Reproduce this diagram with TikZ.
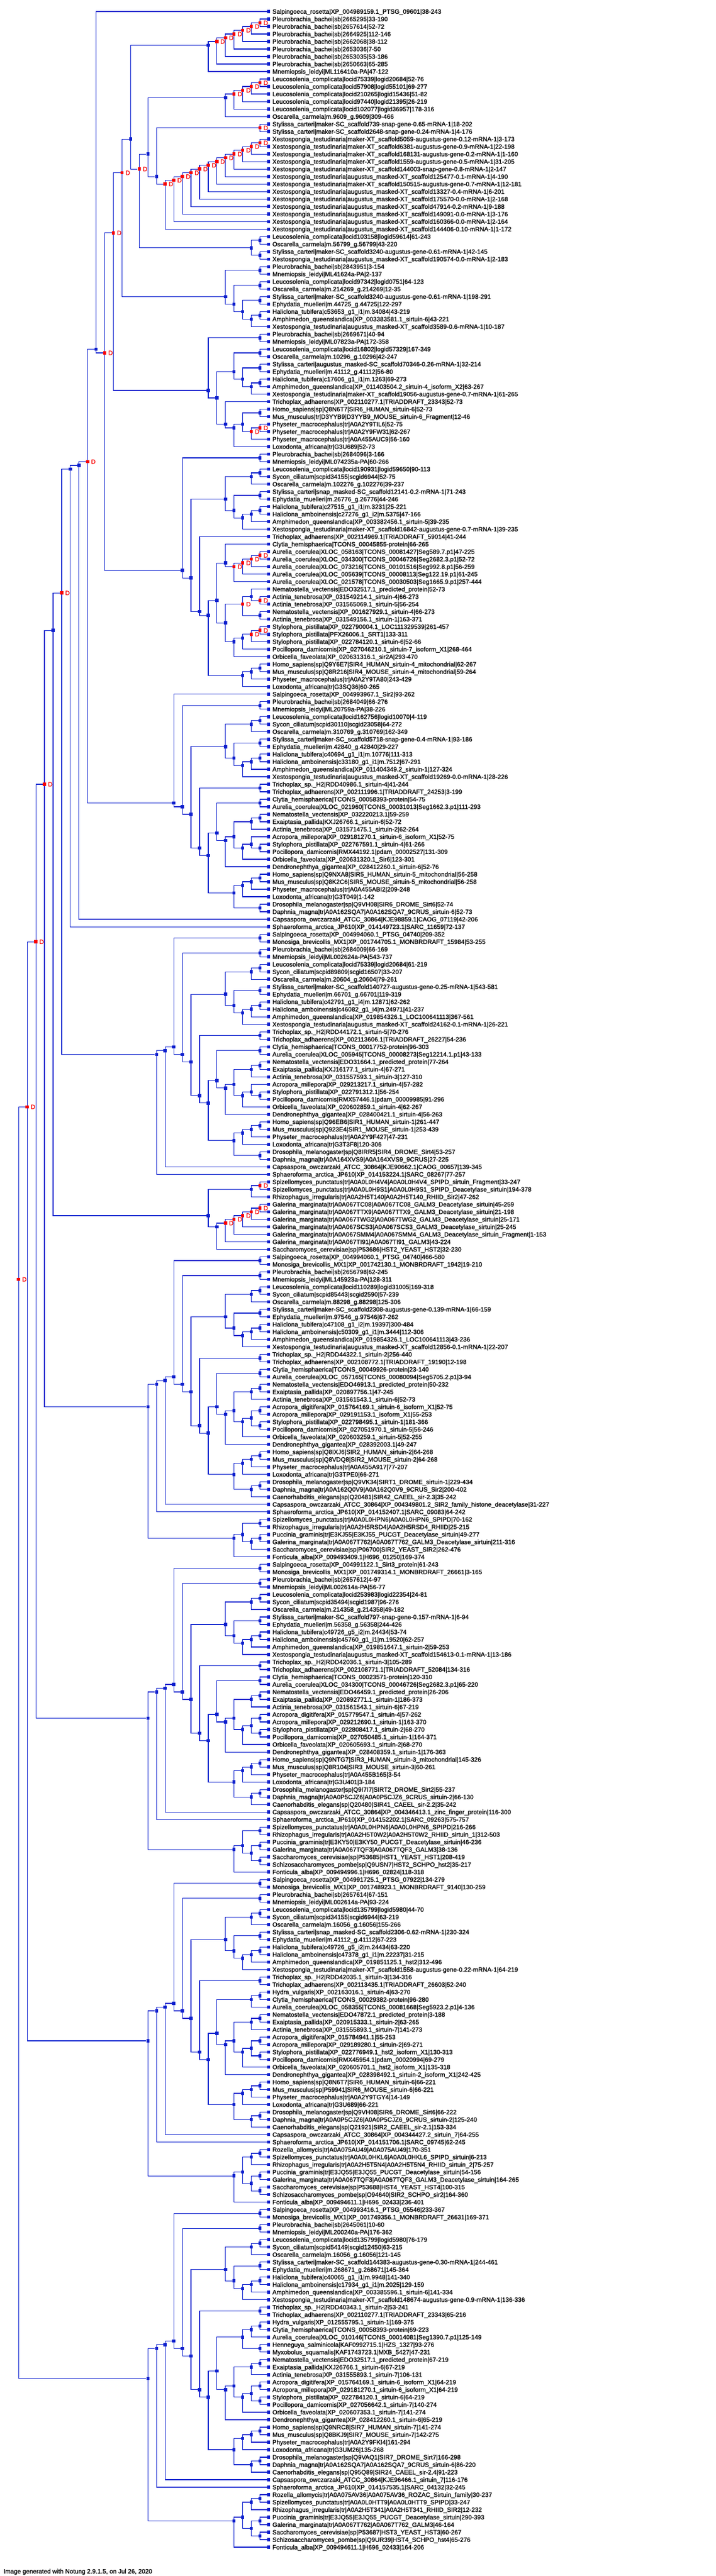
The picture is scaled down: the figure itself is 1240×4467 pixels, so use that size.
\documentclass[tikz,border=0pt]{standalone}
\usepackage{fontspec}
\setmainfont{Liberation Sans}
\newfontfamily\labelfamily{Liberation Sans}[FakeBold=1.2]
\definecolor{treeblue}{RGB}{12,32,206}
\definecolor{dupred}{RGB}{250,0,0}
\newcount\leafno \newcount\stackno \newcount\nodeno
\newcount\tmpa \newcount\tmpb \newcount\tmph \newcount\tmps \newcount\tmpn \newcount\tmpm
\newcommand\treefont{\labelfamily\fontsize{10.8}{12}\selectfont}
\tikzset{
  branch/.style={treeblue, line width=1.2pt},
  leafdot/.style={fill=treeblue, minimum size=5.5pt, inner sep=0pt},
  spec/.style={fill=treeblue, minimum size=5.5pt, inner sep=0pt},
  dupl/.style={fill=dupred, minimum size=5.5pt, inner sep=0pt, label={[dmark]east:D}},
  dmark/.style={text=dupred, font=\treefont, inner sep=0pt, label distance=3pt},
  leaftext/.style={anchor=base west, inner sep=0pt, yshift=-3.8pt, font=\treefont}
}
\newcommand\Leaf[1]{%
  \global\advance\leafno by 1
  \global\advance\stackno by 1
  \edef\ty{\the\dimexpr -20pt-13.0089pt*\numexpr\leafno-1\relax\relax}%
  \node[leafdot] (lf\the\leafno) at (465.5pt,\ty) {};
  \node[leaftext] (lt\the\leafno) at (472pt,\ty) {#1};
  \expandafter\xdef\csname gh\the\stackno\endcsname{0}%
  \expandafter\xdef\csname gs\the\stackno\endcsname{\the\leafno}%
  \expandafter\xdef\csname gn\the\stackno\endcsname{1}%
  \expandafter\xdef\csname gm\the\stackno\endcsname{lf\the\leafno}%
}
\newcommand\JoinTwo[1]{%
  \tmpb=\stackno \tmpa=\stackno \advance\tmpa by -1
  \tmph=\csname gh\the\tmpa\endcsname\relax
  \ifnum\csname gh\the\tmpb\endcsname>\tmph \tmph=\csname gh\the\tmpb\endcsname\relax\fi
  \advance\tmph by 1
  \tmps=\numexpr\csname gs\the\tmpa\endcsname+\csname gs\the\tmpb\endcsname\relax
  \tmpn=\numexpr\csname gn\the\tmpa\endcsname+\csname gn\the\tmpb\endcsname\relax
  \tmpm=\numexpr\tmps*1000/\tmpn-1000\relax
  \global\advance\nodeno by 1
  \edef\ty{\the\dimexpr -20pt-13.0089pt*\tmpm/1000\relax}%
  \edef\tx{\the\dimexpr 465.5pt-14.94pt*\tmph\relax}%
  \edef\na{\csname gm\the\tmpa\endcsname}%
  \edef\nb{\csname gm\the\tmpb\endcsname}%
  \edef\nc{nd\the\nodeno}%
  \coordinate (\nc c) at (\tx,\ty);
  \draw[branch] (\nc c) |- (\na.west) (\nc c) |- (\nb.west);
  \node[#1] (\nc) at (\nc c) {};
  \expandafter\xdef\csname gh\the\tmpa\endcsname{\the\tmph}%
  \expandafter\xdef\csname gs\the\tmpa\endcsname{\the\tmps}%
  \expandafter\xdef\csname gn\the\tmpa\endcsname{\the\tmpn}%
  \expandafter\xdef\csname gm\the\tmpa\endcsname{\nc}%
  \global\advance\stackno by -1
}
\newcommand\Spec{\JoinTwo{spec}}
\newcommand\Dupl{\JoinTwo{dupl}}
\begin{document}
\catcode`\_=12
\begin{tikzpicture}
\fill[white] (0pt,0pt) rectangle (1240pt,-4467pt);
\useasboundingbox (0pt,0pt) rectangle (1240pt,-4467pt);
\Leaf{Salpingoeca_rosetta|XP_004989159.1_PTSG_09601|38-243}
\Leaf{Pleurobrachia_bachei|sb|2665295|33-190}
\Leaf{Pleurobrachia_bachei|sb|2657614|52-72}\Dupl
\Leaf{Pleurobrachia_bachei|sb|2664925|112-146}\Dupl
\Leaf{Pleurobrachia_bachei|sb|2662068|38-112}\Dupl
\Leaf{Pleurobrachia_bachei|sb|2653036|7-50}\Dupl
\Leaf{Pleurobrachia_bachei|sb|2653035|53-186}\Dupl
\Leaf{Pleurobrachia_bachei|sb|2650663|65-285}\Dupl
\Leaf{Mnemiopsis_leidyi|ML116410a-PA|47-122}\Spec
\Leaf{Leucosolenia_complicata|locid75339|logid20684|52-76}
\Leaf{Leucosolenia_complicata|locid57908|logid55101|69-277}\Dupl
\Leaf{Leucosolenia_complicata|locid210265|logid15436|51-82}\Dupl
\Leaf{Leucosolenia_complicata|locid97440|logid21395|26-219}\Dupl
\Leaf{Leucosolenia_complicata|locid102077|logid36957|178-316}\Dupl
\Leaf{Oscarella_carmela|m.9609_g.9609|309-466}\Spec
\Leaf{Stylissa_carteri|maker-SC_scaffold739-snap-gene-0.65-mRNA-1|18-202}
\Leaf{Stylissa_carteri|maker-SC_scaffold2648-snap-gene-0.24-mRNA-1|4-176}\Dupl
\Leaf{Xestospongia_testudinaria|maker-XT_scaffold5059-augustus-gene-0.12-mRNA-1|3-173}
\Leaf{Xestospongia_testudinaria|maker-XT_scaffold6381-augustus-gene-0.9-mRNA-1|22-198}\Dupl
\Leaf{Xestospongia_testudinaria|maker-XT_scaffold168131-augustus-gene-0.2-mRNA-1|1-160}\Dupl
\Leaf{Xestospongia_testudinaria|maker-XT_scaffold1559-augustus-gene-0.5-mRNA-1|31-205}\Dupl
\Leaf{Xestospongia_testudinaria|maker-XT_scaffold144003-snap-gene-0.8-mRNA-1|2-147}\Dupl
\Leaf{Xestospongia_testudinaria|augustus_masked-XT_scaffold125477-0.1-mRNA-1|4-190}\Dupl
\Leaf{Xestospongia_testudinaria|maker-XT_scaffold150515-augustus-gene-0.7-mRNA-1|12-181}\Dupl
\Leaf{Xestospongia_testudinaria|augustus_masked-XT_scaffold13327-0.4-mRNA-1|6-201}\Dupl
\Leaf{Xestospongia_testudinaria|augustus_masked-XT_scaffold175570-0.0-mRNA-1|2-168}\Dupl
\Leaf{Xestospongia_testudinaria|augustus_masked-XT_scaffold47914-0.2-mRNA-1|9-188}\Dupl
\Leaf{Xestospongia_testudinaria|augustus_masked-XT_scaffold149091-0.0-mRNA-1|3-176}\Dupl
\Leaf{Xestospongia_testudinaria|augustus_masked-XT_scaffold160366-0.0-mRNA-1|2-164}\Dupl
\Leaf{Xestospongia_testudinaria|augustus_masked-XT_scaffold144406-0.10-mRNA-1|1-172}\Dupl\Spec\Spec
\Leaf{Leucosolenia_complicata|locid103158|logid59614|61-243}
\Leaf{Oscarella_carmela|m.56799_g.56799|43-220}\Spec
\Leaf{Stylissa_carteri|maker-SC_scaffold3240-augustus-gene-0.61-mRNA-1|42-145}
\Leaf{Xestospongia_testudinaria|augustus_masked-XT_scaffold190574-0.0-mRNA-1|2-183}\Spec\Spec\Dupl\Spec
\Leaf{Pleurobrachia_bachei|sb|2843951|3-154}
\Leaf{Mnemiopsis_leidyi|ML41624a-PA|2-137}\Spec
\Leaf{Leucosolenia_complicata|locid97342|logid0751|64-123}
\Leaf{Oscarella_carmela|m.214269_g.214269|12-35}\Spec
\Leaf{Stylissa_carteri|maker-SC_scaffold3240-augustus-gene-0.61-mRNA-1|198-291}
\Leaf{Ephydatia_muelleri|m.44725_g.44725|122-297}\Spec
\Leaf{Haliclona_tubifera|c53653_g1_i1|m.34084|43-219}
\Leaf{Amphimedon_queenslandica|XP_003383581.1_sirtuin-6|43-221}\Spec
\Leaf{Xestospongia_testudinaria|augustus_masked-XT_scaffold3589-0.6-mRNA-1|10-187}\Spec\Spec\Spec\Spec\Dupl
\Leaf{Pleurobrachia_bachei|sb|2669671|40-94}
\Leaf{Mnemiopsis_leidyi|ML07823a-PA|172-358}\Spec
\Leaf{Leucosolenia_complicata|locid16802|logid57329|167-349}
\Leaf{Oscarella_carmela|m.10296_g.10296|42-247}\Spec
\Leaf{Stylissa_carteri|augustus_masked-SC_scaffold70346-0.26-mRNA-1|32-214}
\Leaf{Ephydatia_muelleri|m.41112_g.41112|56-80}\Spec
\Leaf{Haliclona_tubifera|c17606_g1_i1|m.1263|69-273}
\Leaf{Amphimedon_queenslandica|XP_011403504.2_sirtuin-4_isoform_X2|63-267}\Spec
\Leaf{Xestospongia_testudinaria|maker-XT_scaffold19056-augustus-gene-0.7-mRNA-1|61-265}\Spec\Spec\Spec
\Leaf{Trichoplax_adhaerens|XP_002110277.1|TRIADDRAFT_23343|52-73}
\Leaf{Homo_sapiens|sp|Q8N6T7|SIR6_HUMAN_sirtuin-6|52-73}
\Leaf{Mus_musculus|tr|D3YYB9|D3YYB9_MOUSE_sirtuin-6_Fragment|12-46}\Spec
\Leaf{Physeter_macrocephalus|tr|A0A2Y9TIL6|52-75}
\Leaf{Physeter_macrocephalus|tr|A0A2Y9FW31|62-267}\Dupl
\Leaf{Physeter_macrocephalus|tr|A0A455AUC9|56-160}\Dupl\Spec
\Leaf{Loxodonta_africana|tr|G3U689|52-73}\Spec\Spec\Spec\Spec\Dupl
\Leaf{Pleurobrachia_bachei|sb|2684096|3-166}
\Leaf{Mnemiopsis_leidyi|ML074235a-PA|60-266}\Spec
\Leaf{Leucosolenia_complicata|locid190931|logid59650|90-113}
\Leaf{Sycon_ciliatum|scpid34155|scgid6944|52-75}\Spec
\Leaf{Oscarella_carmela|m.102276_g.102276|39-237}\Spec
\Leaf{Stylissa_carteri|snap_masked-SC_scaffold12141-0.2-mRNA-1|71-243}
\Leaf{Ephydatia_muelleri|m.26776_g.26776|44-246}\Spec
\Leaf{Haliclona_tubifera|c27515_g1_i1|m.3231|25-221}
\Leaf{Haliclona_amboinensis|c27276_g1_i2|m.5375|47-166}\Spec
\Leaf{Amphimedon_queenslandica|XP_003382456.1_sirtuin-5|39-235}\Spec
\Leaf{Xestospongia_testudinaria|maker-XT_scaffold16842-augustus-gene-0.7-mRNA-1|39-235}\Spec\Spec\Spec
\Leaf{Trichoplax_adhaerens|XP_002114969.1|TRIADDRAFT_59014|41-244}
\Leaf{Clytia_hemisphaerica|TCONS_00045855-protein|66-265}
\Leaf{Aurelia_coerulea|XLOC_058163|TCONS_00081427|Seg589.7.p1|47-225}
\Leaf{Aurelia_coerulea|XLOC_034300|TCONS_00046726|Seg2682.3.p1|52-72}\Dupl
\Leaf{Aurelia_coerulea|XLOC_073216|TCONS_00101516|Seg992.8.p1|56-259}\Dupl
\Leaf{Aurelia_coerulea|XLOC_005639|TCONS_00008113|Seg122.19.p1|61-245}\Dupl
\Leaf{Aurelia_coerulea|XLOC_021578|TCONS_00030503|Seg1665.9.p1|257-444}\Dupl\Spec
\Leaf{Nematostella_vectensis|EDO32517.1_predicted_protein|52-73}
\Leaf{Actinia_tenebrosa|XP_031549214.1_sirtuin-4|66-273}
\Leaf{Actinia_tenebrosa|XP_031565069.1_sirtuin-5|56-254}\Dupl\Spec
\Leaf{Nematostella_vectensis|XP_001627929.1_sirtuin-4|66-273}
\Leaf{Actinia_tenebrosa|XP_031549156.1_sirtuin-1|163-371}\Spec\Dupl
\Leaf{Stylophora_pistillata|XP_022790004.1_LOC111329539|261-457}
\Leaf{Stylophora_pistillata|PFX26006.1_SRT1|133-311}\Dupl
\Leaf{Stylophora_pistillata|XP_022784120.1_sirtuin-6|52-66}\Dupl
\Leaf{Pocillopora_damicornis|XP_027046210.1_sirtuin-7_isoform_X1|268-464}\Spec
\Leaf{Orbicella_faveolata|XP_020631316.1_sir2A|293-470}\Spec\Spec\Spec
\Leaf{Homo_sapiens|sp|Q9Y6E7|SIR4_HUMAN_sirtuin-4_mitochondrial|62-267}
\Leaf{Mus_musculus|sp|Q8R216|SIR4_MOUSE_sirtuin-4_mitochondrial|59-264}\Spec
\Leaf{Physeter_macrocephalus|tr|A0A2Y9TA80|243-429}\Spec
\Leaf{Loxodonta_africana|tr|G3SQ36|60-265}\Spec\Spec\Spec\Spec\Spec\Dupl\Spec
\Leaf{Salpingoeca_rosetta|XP_004993967.1_Sir2|93-262}
\Leaf{Pleurobrachia_bachei|sb|2684049|66-276}
\Leaf{Mnemiopsis_leidyi|ML20759a-PA|38-226}\Spec
\Leaf{Leucosolenia_complicata|locid162756|logid10070|4-119}
\Leaf{Sycon_ciliatum|scpid30110|scgid23058|64-272}\Spec
\Leaf{Oscarella_carmela|m.310769_g.310769|162-349}\Spec
\Leaf{Stylissa_carteri|maker-SC_scaffold5718-snap-gene-0.4-mRNA-1|93-186}
\Leaf{Ephydatia_muelleri|m.42840_g.42840|29-227}\Spec
\Leaf{Haliclona_tubifera|c40694_g1_i1|m.10776|111-313}
\Leaf{Haliclona_amboinensis|c33180_g1_i1|m.7512|67-291}\Spec
\Leaf{Amphimedon_queenslandica|XP_011404349.2_sirtuin-1|127-324}\Spec
\Leaf{Xestospongia_testudinaria|augustus_masked-XT_scaffold19269-0.0-mRNA-1|28-226}\Spec\Spec\Spec
\Leaf{Trichoplax_sp._H2|RDD40986.1_sirtuin-4|41-244}
\Leaf{Trichoplax_adhaerens|XP_002111996.1|TRIADDRAFT_24253|3-199}\Spec
\Leaf{Clytia_hemisphaerica|TCONS_00058393-protein|54-75}
\Leaf{Aurelia_coerulea|XLOC_021960|TCONS_00031013|Seg1662.3.p1|111-293}\Spec
\Leaf{Nematostella_vectensis|XP_032220213.1|59-259}
\Leaf{Exaiptasia_pallida|KXJ26766.1_sirtuin-6|52-72}\Spec
\Leaf{Actinia_tenebrosa|XP_031571475.1_sirtuin-2|62-264}\Spec
\Leaf{Acropora_millepora|XP_029181270.1_sirtuin-6_isoform_X1|52-75}
\Leaf{Stylophora_pistillata|XP_022767591.1_sirtuin-4|61-266}
\Leaf{Pocillopora_damicornis|RMX44192.1|pdam_00002527|131-309}\Spec\Spec
\Leaf{Orbicella_faveolata|XP_020631320.1_Sir6|123-301}\Spec\Spec
\Leaf{Dendronephthya_gigantea|XP_028412260.1_sirtuin-6|52-76}\Spec\Spec
\Leaf{Homo_sapiens|sp|Q9NXA8|SIR5_HUMAN_sirtuin-5_mitochondrial|56-258}
\Leaf{Mus_musculus|sp|Q8K2C6|SIR5_MOUSE_sirtuin-5_mitochondrial|56-258}\Spec
\Leaf{Physeter_macrocephalus|tr|A0A455ABI2|209-248}\Spec
\Leaf{Loxodonta_africana|tr|G3T049|1-142}\Spec
\Leaf{Drosophila_melanogaster|sp|Q9VH08|SIR6_DROME_Sirt6|52-74}
\Leaf{Daphnia_magna|tr|A0A162SQA7|A0A162SQA7_9CRUS_sirtuin-6|52-73}\Spec\Spec
\Spec\Spec\Spec\Spec\Spec\Dupl
\Leaf{Capsaspora_owczarzaki_ATCC_30864|KJE98859.1|CAOG_07119|42-206}\Spec
\Leaf{Sphaeroforma_arctica_JP610|XP_014149723.1|SARC_11659|72-137}\Spec
\Leaf{Salpingoeca_rosetta|XP_004994060.1_PTSG_04740|209-352}
\Leaf{Monosiga_brevicollis_MX1|XP_001744705.1_MONBRDRAFT_15984|53-255}\Spec
\Leaf{Pleurobrachia_bachei|sb|2684009|66-169}
\Leaf{Mnemiopsis_leidyi|ML002624a-PA|543-737}\Spec
\Leaf{Leucosolenia_complicata|locid75339|logid20684|61-219}
\Leaf{Sycon_ciliatum|scpid89809|scgid16507|33-207}\Spec
\Leaf{Oscarella_carmela|m.20604_g.20604|79-261}\Spec
\Leaf{Stylissa_carteri|maker-SC_scaffold140727-augustus-gene-0.25-mRNA-1|543-581}
\Leaf{Ephydatia_muelleri|m.66701_g.66701|119-319}\Spec
\Leaf{Haliclona_tubifera|c42791_g1_i4|m.12871|62-262}
\Leaf{Haliclona_amboinensis|c46082_g1_i4|m.24971|41-237}\Spec
\Leaf{Amphimedon_queenslandica|XP_019854326.1_LOC100641113|367-561}\Spec
\Leaf{Xestospongia_testudinaria|augustus_masked-XT_scaffold24162-0.1-mRNA-1|26-221}\Spec\Spec\Spec
\Leaf{Trichoplax_sp._H2|RDD44172.1_sirtuin-5|70-276}
\Leaf{Trichoplax_adhaerens|XP_002113606.1|TRIADDRAFT_26227|54-236}\Spec
\Leaf{Clytia_hemisphaerica|TCONS_00017752-protein|96-303}
\Leaf{Aurelia_coerulea|XLOC_005945|TCONS_00008273|Seg12214.1.p1|43-133}\Spec
\Leaf{Nematostella_vectensis|EDO31664.1_predicted_protein|77-264}
\Leaf{Exaiptasia_pallida|KXJ16177.1_sirtuin-4|67-271}\Spec
\Leaf{Actinia_tenebrosa|XP_031557593.1_sirtuin-3|127-310}\Spec
\Leaf{Acropora_millepora|XP_029213217.1_sirtuin-4|57-282}
\Leaf{Stylophora_pistillata|XP_022791312.1|56-254}
\Leaf{Pocillopora_damicornis|RMX57446.1|pdam_00009985|91-296}\Spec\Spec
\Leaf{Orbicella_faveolata|XP_020602859.1_sirtuin-4|62-267}\Spec\Spec
\Leaf{Dendronephthya_gigantea|XP_028400421.1_sirtuin-4|56-263}\Spec\Spec
\Leaf{Homo_sapiens|sp|Q96EB6|SIR1_HUMAN_sirtuin-1|261-447}
\Leaf{Mus_musculus|sp|Q923E4|SIR1_MOUSE_sirtuin-1|253-439}\Spec
\Leaf{Physeter_macrocephalus|tr|A0A2Y9F427|47-231}\Spec
\Leaf{Loxodonta_africana|tr|G3T3F8|120-306}\Spec
\Leaf{Drosophila_melanogaster|sp|Q8IRR5|SIR4_DROME_Sirt4|53-257}
\Leaf{Daphnia_magna|tr|A0A164XVS9|A0A164XVS9_9CRUS|27-225}\Spec\Spec
\Spec\Spec\Spec\Spec\Spec
\Leaf{Capsaspora_owczarzaki_ATCC_30864|KJE90662.1|CAOG_00657|139-345}\Spec
\Leaf{Sphaeroforma_arctica_JP610|XP_014153224.1|SARC_08267|77-257}\Spec\Dupl
\Leaf{Spizellomyces_punctatus|tr|A0A0L0H4V4|A0A0L0H4V4_SPIPD_sirtuin_Fragment|33-247}
\Leaf{Spizellomyces_punctatus|tr|A0A0L0H9S1|A0A0L0H9S1_SPIPD_Deacetylase_sirtuin|194-378}\Dupl
\Leaf{Rhizophagus_irregularis|tr|A0A2H5T140|A0A2H5T140_RHIID_Sir2|47-262}\Spec
\Leaf{Galerina_marginata|tr|A0A067TC08|A0A067TC08_GALM3_Deacetylase_sirtuin|45-259}
\Leaf{Galerina_marginata|tr|A0A067TTX9|A0A067TTX9_GALM3_Deacetylase_sirtuin|21-198}\Dupl
\Leaf{Galerina_marginata|tr|A0A067TWG2|A0A067TWG2_GALM3_Deacetylase_sirtuin|25-171}\Dupl
\Leaf{Galerina_marginata|tr|A0A067SCS3|A0A067SCS3_GALM3_Deacetylase_sirtuin|25-245}\Dupl
\Leaf{Galerina_marginata|tr|A0A067SMM4|A0A067SMM4_GALM3_Deacetylase_sirtuin_Fragment|1-153}\Dupl
\Leaf{Galerina_marginata|tr|A0A067TI91|A0A067TI91_GALM3|43-224}\Dupl
\Leaf{Saccharomyces_cerevisiae|sp|P53686|HST2_YEAST_HST2|32-230}\Spec\Spec\Spec
\Leaf{Salpingoeca_rosetta|XP_004994060.1_PTSG_04740|466-580}
\Leaf{Monosiga_brevicollis_MX1|XP_001742130.1_MONBRDRAFT_1942|19-210}\Spec
\Leaf{Pleurobrachia_bachei|sb|2656798|62-245}
\Leaf{Mnemiopsis_leidyi|ML145923a-PA|128-311}\Spec
\Leaf{Leucosolenia_complicata|locid110289|logid31005|169-318}
\Leaf{Sycon_ciliatum|scpid85443|scgid2590|57-239}\Spec
\Leaf{Oscarella_carmela|m.88298_g.88298|125-306}\Spec
\Leaf{Stylissa_carteri|maker-SC_scaffold2308-augustus-gene-0.139-mRNA-1|66-159}
\Leaf{Ephydatia_muelleri|m.97546_g.97546|67-262}\Spec
\Leaf{Haliclona_tubifera|c47108_g1_i2|m.19397|300-484}
\Leaf{Haliclona_amboinensis|c50309_g1_i1|m.3444|112-306}\Spec
\Leaf{Amphimedon_queenslandica|XP_019854326.1_LOC100641113|43-236}\Spec
\Leaf{Xestospongia_testudinaria|augustus_masked-XT_scaffold12856-0.1-mRNA-1|22-207}\Spec\Spec\Spec
\Leaf{Trichoplax_sp._H2|RDD44322.1_sirtuin-2|256-440}
\Leaf{Trichoplax_adhaerens|XP_002108772.1|TRIADDRAFT_19190|12-198}\Spec
\Leaf{Clytia_hemisphaerica|TCONS_00049926-protein|23-140}
\Leaf{Aurelia_coerulea|XLOC_057165|TCONS_00080094|Seg5705.2.p1|3-94}\Spec
\Leaf{Nematostella_vectensis|EDO46913.1_predicted_protein|50-232}
\Leaf{Exaiptasia_pallida|XP_020897756.1|47-245}\Spec
\Leaf{Actinia_tenebrosa|XP_031561543.1_sirtuin-6|52-73}\Spec
\Leaf{Acropora_digitifera|XP_015764169.1_sirtuin-6_isoform_X1|52-75}
\Leaf{Acropora_millepora|XP_029191153.1_isoform_X1|55-253}\Spec
\Leaf{Stylophora_pistillata|XP_022798495.1_sirtuin-1|181-366}
\Leaf{Pocillopora_damicornis|XP_027051970.1_sirtuin-5|56-246}\Spec\Spec
\Leaf{Orbicella_faveolata|XP_020603259.1_sirtuin-5|52-255}\Spec\Spec
\Leaf{Dendronephthya_gigantea|XP_028392003.1|49-247}\Spec\Spec
\Leaf{Homo_sapiens|sp|Q8IXJ6|SIR2_HUMAN_sirtuin-2|64-268}
\Leaf{Mus_musculus|sp|Q8VDQ8|SIR2_MOUSE_sirtuin-2|64-268}\Spec
\Leaf{Physeter_macrocephalus|tr|A0A455A917|77-207}\Spec
\Leaf{Loxodonta_africana|tr|G3TPE0|66-271}\Spec
\Leaf{Drosophila_melanogaster|sp|Q9VK34|SIRT1_DROME_sirtuin-1|229-434}
\Leaf{Daphnia_magna|tr|A0A162Q0V9|A0A162Q0V9_9CRUS_Sir2|200-402}\Spec
\Leaf{Caenorhabditis_elegans|sp|Q20481|SIR42_CAEEL_sir-2.3|35-242}\Spec\Spec
\Spec\Spec\Spec\Spec\Spec
\Leaf{Capsaspora_owczarzaki_ATCC_30864|XP_004349801.2_SIR2_family_histone_deacetylase|31-227}\Spec
\Leaf{Sphaeroforma_arctica_JP610|XP_014152407.1|SARC_09083|64-242}\Spec
\Leaf{Spizellomyces_punctatus|tr|A0A0L0HPN6|A0A0L0HPN6_SPIPD|70-162}
\Leaf{Rhizophagus_irregularis|tr|A0A2H5RSD4|A0A2H5RSD4_RHIID|25-215}\Spec
\Leaf{Puccinia_graminis|tr|E3KJ55|E3KJ55_PUCGT_Deacetylase_sirtuin|49-277}
\Leaf{Galerina_marginata|tr|A0A067T762|A0A067T762_GALM3_Deacetylase_sirtuin|211-316}\Spec
\Leaf{Saccharomyces_cerevisiae|sp|P06700|SIR2_YEAST_SIR2|262-476}\Spec\Spec
\Leaf{Fonticula_alba|XP_009493409.1|H696_01250|169-374}\Spec\Spec\Dupl
\Leaf{Salpingoeca_rosetta|XP_004991122.1_Sirt3_protein|61-243}
\Leaf{Monosiga_brevicollis_MX1|XP_001749314.1_MONBRDRAFT_26661|3-165}\Spec
\Leaf{Pleurobrachia_bachei|sb|2657612|4-97}
\Leaf{Mnemiopsis_leidyi|ML002614a-PA|56-77}\Spec
\Leaf{Leucosolenia_complicata|locid253983|logid22354|24-81}
\Leaf{Sycon_ciliatum|scpid35494|scgid1987|96-276}\Spec
\Leaf{Oscarella_carmela|m.214358_g.214358|49-182}\Spec
\Leaf{Stylissa_carteri|maker-SC_scaffold797-snap-gene-0.157-mRNA-1|6-94}
\Leaf{Ephydatia_muelleri|m.56358_g.56358|244-426}\Spec
\Leaf{Haliclona_tubifera|c49726_g5_i2|m.24434|53-74}
\Leaf{Haliclona_amboinensis|c45760_g1_i1|m.19520|62-257}\Spec
\Leaf{Amphimedon_queenslandica|XP_019851647.1_sirtuin-2|59-253}\Spec
\Leaf{Xestospongia_testudinaria|augustus_masked-XT_scaffold154613-0.1-mRNA-1|13-186}\Spec\Spec\Spec
\Leaf{Trichoplax_sp._H2|RDD42036.1_sirtuin-3|105-289}
\Leaf{Trichoplax_adhaerens|XP_002108771.1|TRIADDRAFT_52084|134-316}\Spec
\Leaf{Clytia_hemisphaerica|TCONS_00023571-protein|120-310}
\Leaf{Aurelia_coerulea|XLOC_034300|TCONS_00046726|Seg2682.3.p1|65-220}\Spec
\Leaf{Nematostella_vectensis|EDO46459.1_predicted_protein|26-206}
\Leaf{Exaiptasia_pallida|XP_020892771.1_sirtuin-1|186-373}\Spec
\Leaf{Actinia_tenebrosa|XP_031561543.1_sirtuin-6|67-219}\Spec
\Leaf{Acropora_digitifera|XP_015779547.1_sirtuin-4|57-262}
\Leaf{Acropora_millepora|XP_029212690.1_sirtuin-1|163-370}\Spec
\Leaf{Stylophora_pistillata|XP_022808417.1_sirtuin-2|68-270}
\Leaf{Pocillopora_damicornis|XP_027050485.1_sirtuin-1|164-371}\Spec\Spec
\Leaf{Orbicella_faveolata|XP_020605693.1_sirtuin-2|68-270}\Spec\Spec
\Leaf{Dendronephthya_gigantea|XP_028408359.1_sirtuin-1|176-363}\Spec\Spec
\Leaf{Homo_sapiens|sp|Q9NTG7|SIR3_HUMAN_sirtuin-3_mitochondrial|145-326}
\Leaf{Mus_musculus|sp|Q8R104|SIR3_MOUSE_sirtuin-3|60-261}\Spec
\Leaf{Physeter_macrocephalus|tr|A0A455B165|3-54}\Spec
\Leaf{Loxodonta_africana|tr|G3U401|3-184}\Spec
\Leaf{Drosophila_melanogaster|sp|Q9I7I7|SIRT2_DROME_Sirt2|55-237}
\Leaf{Daphnia_magna|tr|A0A0P5CJZ6|A0A0P5CJZ6_9CRUS_sirtuin-2|66-130}\Spec
\Leaf{Caenorhabditis_elegans|sp|Q20480|SIR41_CAEEL_sir-2.2|35-242}\Spec\Spec
\Spec\Spec\Spec\Spec\Spec
\Leaf{Capsaspora_owczarzaki_ATCC_30864|XP_004346413.1_zinc_finger_protein|116-300}\Spec
\Leaf{Sphaeroforma_arctica_JP610|XP_014152202.1|SARC_09263|575-757}\Spec
\Leaf{Spizellomyces_punctatus|tr|A0A0L0HPN6|A0A0L0HPN6_SPIPD|216-266}
\Leaf{Rhizophagus_irregularis|tr|A0A2H5T0W2|A0A2H5T0W2_RHIID_sirtuin_1|312-503}\Spec
\Leaf{Puccinia_graminis|tr|E3KY50|E3KY50_PUCGT_Deacetylase_sirtuin|46-236}
\Leaf{Galerina_marginata|tr|A0A067TQF3|A0A067TQF3_GALM3|38-136}\Spec
\Leaf{Saccharomyces_cerevisiae|sp|P53685|HST1_YEAST_HST1|208-419}
\Leaf{Schizosaccharomyces_pombe|sp|Q9USN7|HST2_SCHPO_hst2|35-217}\Spec\Spec\Spec
\Leaf{Fonticula_alba|XP_009494996.1|H696_02824|118-318}\Spec\Spec\Dupl
\Leaf{Salpingoeca_rosetta|XP_004991725.1_PTSG_07922|134-279}
\Leaf{Monosiga_brevicollis_MX1|XP_001748923.1_MONBRDRAFT_9140|130-259}\Spec
\Leaf{Pleurobrachia_bachei|sb|2657614|67-151}
\Leaf{Mnemiopsis_leidyi|ML002614a-PA|93-224}\Spec
\Leaf{Leucosolenia_complicata|locid135799|logid5980|44-70}
\Leaf{Sycon_ciliatum|scpid34155|scgid6944|63-219}\Spec
\Leaf{Oscarella_carmela|m.16056_g.16056|155-266}\Spec
\Leaf{Stylissa_carteri|snap_masked-SC_scaffold2306-0.62-mRNA-1|230-324}
\Leaf{Ephydatia_muelleri|m.41112_g.41112|67-223}\Spec
\Leaf{Haliclona_tubifera|c49726_g5_i2|m.24434|63-220}
\Leaf{Haliclona_amboinensis|c47378_g1_i1|m.22237|31-215}\Spec
\Leaf{Amphimedon_queenslandica|XP_019851125.1_hst2|312-496}\Spec
\Leaf{Xestospongia_testudinaria|maker-XT_scaffold1558-augustus-gene-0.22-mRNA-1|64-219}\Spec\Spec\Spec
\Leaf{Trichoplax_sp._H2|RDD42035.1_sirtuin-3|134-316}
\Leaf{Trichoplax_adhaerens|XP_002113435.1|TRIADDRAFT_26603|52-240}\Spec
\Leaf{Hydra_vulgaris|XP_002163016.1_sirtuin-4|63-270}
\Leaf{Clytia_hemisphaerica|TCONS_00029382-protein|96-280}\Spec
\Leaf{Aurelia_coerulea|XLOC_058355|TCONS_00081668|Seg5923.2.p1|4-136}\Spec
\Leaf{Nematostella_vectensis|EDO47872.1_predicted_protein|3-188}
\Leaf{Exaiptasia_pallida|XP_020915333.1_sirtuin-2|63-265}\Spec
\Leaf{Actinia_tenebrosa|XP_031555893.1_sirtuin-7|141-273}\Spec
\Leaf{Acropora_digitifera|XP_015784941.1|55-253}
\Leaf{Acropora_millepora|XP_029189280.1_sirtuin-2|69-271}\Spec
\Leaf{Stylophora_pistillata|XP_022776949.1_hst2_isoform_X1|130-313}
\Leaf{Pocillopora_damicornis|RMX45954.1|pdam_00020994|69-279}\Spec\Spec
\Leaf{Orbicella_faveolata|XP_020605701.1_hst2_isoform_X1|135-318}\Spec\Spec
\Leaf{Dendronephthya_gigantea|XP_028398492.1_sirtuin-2_isoform_X1|242-425}\Spec\Spec
\Leaf{Homo_sapiens|sp|Q8N6T7|SIR6_HUMAN_sirtuin-6|66-221}
\Leaf{Mus_musculus|sp|P59941|SIR6_MOUSE_sirtuin-6|66-221}\Spec
\Leaf{Physeter_macrocephalus|tr|A0A2Y9TGY4|14-149}\Spec
\Leaf{Loxodonta_africana|tr|G3U689|66-221}\Spec
\Leaf{Drosophila_melanogaster|sp|Q9VH08|SIR6_DROME_Sirt6|66-222}
\Leaf{Daphnia_magna|tr|A0A0P5CJZ6|A0A0P5CJZ6_9CRUS_sirtuin-2|125-240}\Spec
\Leaf{Caenorhabditis_elegans|sp|Q21921|SIR2_CAEEL_sir-2.1|153-334}\Spec\Spec
\Spec\Spec\Spec\Spec\Spec
\Leaf{Capsaspora_owczarzaki_ATCC_30864|XP_004344427.2_sirtuin_7|64-255}\Spec
\Leaf{Sphaeroforma_arctica_JP610|XP_014151706.1|SARC_09745|62-245}\Spec
\Leaf{Rozella_allomycis|tr|A0A075AU49|A0A075AU49|170-351}
\Leaf{Spizellomyces_punctatus|tr|A0A0L0HKL6|A0A0L0HKL6_SPIPD_sirtuin|6-213}\Spec
\Leaf{Rhizophagus_irregularis|tr|A0A2H5T5N4|A0A2H5T5N4_RHIID_sirtuin_2|75-257}\Spec
\Leaf{Puccinia_graminis|tr|E3JQ55|E3JQ55_PUCGT_Deacetylase_sirtuin|54-156}
\Leaf{Galerina_marginata|tr|A0A067TQF3|A0A067TQF3_GALM3_Deacetylase_sirtuin|164-265}\Spec
\Leaf{Saccharomyces_cerevisiae|sp|P53688|HST4_YEAST_HST4|100-315}
\Leaf{Schizosaccharomyces_pombe|sp|O94640|SIR2_SCHPO_sir2|164-360}\Spec\Spec\Spec
\Leaf{Fonticula_alba|XP_009494611.1|H696_02433|236-401}\Spec\Spec\Dupl
\Leaf{Salpingoeca_rosetta|XP_004993416.1_PTSG_05546|233-367}
\Leaf{Monosiga_brevicollis_MX1|XP_001749356.1_MONBRDRAFT_26631|169-371}\Spec
\Leaf{Pleurobrachia_bachei|sb|2645061|10-60}
\Leaf{Mnemiopsis_leidyi|ML200240a-PA|176-362}\Spec
\Leaf{Leucosolenia_complicata|locid135799|logid5980|76-179}
\Leaf{Sycon_ciliatum|scpid54149|scgid12450|63-215}\Spec
\Leaf{Oscarella_carmela|m.16056_g.16056|121-145}\Spec
\Leaf{Stylissa_carteri|maker-SC_scaffold144383-augustus-gene-0.30-mRNA-1|244-461}
\Leaf{Ephydatia_muelleri|m.268671_g.268671|145-364}\Spec
\Leaf{Haliclona_tubifera|c40065_g1_i1|m.9948|141-340}
\Leaf{Haliclona_amboinensis|c17934_g1_i1|m.2025|129-159}\Spec
\Leaf{Amphimedon_queenslandica|XP_003385596.1_sirtuin-6|141-334}\Spec
\Leaf{Xestospongia_testudinaria|maker-XT_scaffold148674-augustus-gene-0.9-mRNA-1|136-336}\Spec\Spec\Spec
\Leaf{Trichoplax_sp._H2|RDD40343.1_sirtuin-2|53-241}
\Leaf{Trichoplax_adhaerens|XP_002110277.1|TRIADDRAFT_23343|65-216}\Spec
\Leaf{Hydra_vulgaris|XP_012555795.1_sirtuin-1|169-375}
\Leaf{Clytia_hemisphaerica|TCONS_00058393-protein|69-223}\Spec
\Leaf{Aurelia_coerulea|XLOC_010146|TCONS_00014081|Seg1390.7.p1|125-149}\Spec
\Leaf{Henneguya_salminicola|KAF0992715.1|HZS_1327|93-276}
\Leaf{Myxobolus_squamalis|KAF1743723.1|MXB_5427|47-231}\Spec\Spec
\Leaf{Nematostella_vectensis|EDO32517.1_predicted_protein|67-219}
\Leaf{Exaiptasia_pallida|KXJ26766.1_sirtuin-6|67-219}\Spec
\Leaf{Actinia_tenebrosa|XP_031555893.1_sirtuin-7|106-131}\Spec
\Leaf{Acropora_digitifera|XP_015764169.1_sirtuin-6_isoform_X1|64-219}
\Leaf{Acropora_millepora|XP_029181270.1_sirtuin-6_isoform_X1|64-219}\Spec
\Leaf{Stylophora_pistillata|XP_022784120.1_sirtuin-6|64-219}
\Leaf{Pocillopora_damicornis|XP_027056642.1_sirtuin-7|140-274}\Spec\Spec
\Leaf{Orbicella_faveolata|XP_020607353.1_sirtuin-7|141-274}\Spec\Spec
\Leaf{Dendronephthya_gigantea|XP_028412260.1_sirtuin-6|65-219}\Spec\Spec
\Leaf{Homo_sapiens|sp|Q9NRC8|SIR7_HUMAN_sirtuin-7|141-274}
\Leaf{Mus_musculus|sp|Q8BKJ9|SIR7_MOUSE_sirtuin-7|142-275}\Spec
\Leaf{Physeter_macrocephalus|tr|A0A2Y9FKI4|161-294}\Spec
\Leaf{Loxodonta_africana|tr|G3UM26|135-268}\Spec
\Leaf{Drosophila_melanogaster|sp|Q9VAQ1|SIR7_DROME_Sirt7|166-298}
\Leaf{Daphnia_magna|tr|A0A162SQA7|A0A162SQA7_9CRUS_sirtuin-6|86-220}\Spec
\Leaf{Caenorhabditis_elegans|sp|Q95Q89|SIR24_CAEEL_sir-2.4|91-223}\Spec\Spec
\Spec\Spec\Spec\Spec\Spec
\Leaf{Capsaspora_owczarzaki_ATCC_30864|KJE96466.1_sirtuin_7|116-176}\Spec
\Leaf{Sphaeroforma_arctica_JP610|XP_014157535.1|SARC_04132|32-245}\Spec
\Leaf{Rozella_allomycis|tr|A0A075AV36|A0A075AV36_ROZAC_Sirtuin_family|30-237}
\Leaf{Spizellomyces_punctatus|tr|A0A0L0HTT9|A0A0L0HTT9_SPIPD|33-247}\Spec
\Leaf{Rhizophagus_irregularis|tr|A0A2H5T341|A0A2H5T341_RHIID_SIR2|12-232}\Spec
\Leaf{Puccinia_graminis|tr|E3JQ55|E3JQ55_PUCGT_Deacetylase_sirtuin|290-393}
\Leaf{Galerina_marginata|tr|A0A067T762|A0A067T762_GALM3|46-164}\Spec
\Leaf{Saccharomyces_cerevisiae|sp|P53687|HST3_YEAST_HST3|60-267}
\Leaf{Schizosaccharomyces_pombe|sp|Q9UR39|HST4_SCHPO_hst4|65-276}\Spec\Spec\Spec
\Leaf{Fonticula_alba|XP_009494611.1|H696_02433|164-206}\Spec\Spec\Dupl
\node[leaftext] (caption) at (6pt,-4458.7pt) {Image generated with Notung 2.9.1.5, on Jul 26, 2020};
\end{tikzpicture}
\end{document}
